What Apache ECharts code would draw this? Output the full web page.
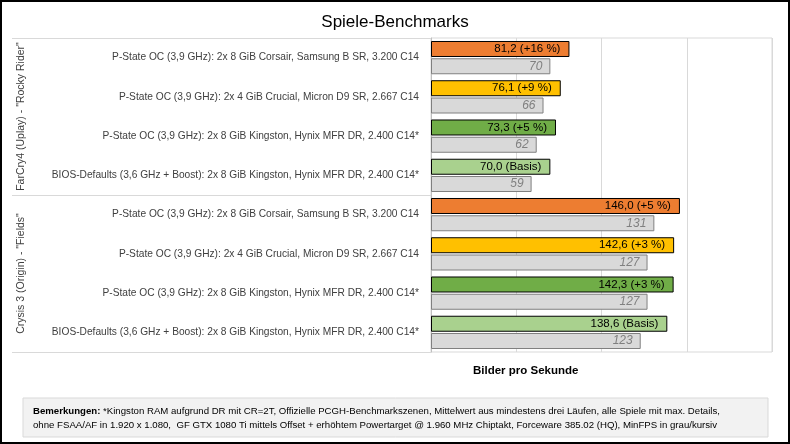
<!DOCTYPE html>
<html>
<head>
<meta charset="utf-8">
<script src="https://cdn.jsdelivr.net/npm/echarts@6/dist/echarts.min.js"></script>
<style>
  html, body { margin: 0; padding: 0; background: #fff; }
  #chart { width: 790px; height: 444px; }
</style>
</head>
<body>
<div id="chart"></div>
<script>
// Spiele-Benchmarks, Werte
var groups = ['FarCry4 (Uplay) - "Rocky Rider"', 'Crysis 3 (Origin) - "Fields"']
var configs = [
  'P-State OC (3,9 GHz): 2x 8 GiB Corsair, Samsung B SR, 3.200 C14',
  'P-State OC (3,9 GHz): 2x 4 GiB Crucial, Micron D9 SR, 2.667 C14',
  'P-State OC (3,9 GHz): 2x 8 GiB Kingston, Hynix MFR DR, 2.400 C14*',
  'BIOS-Defaults (3,6 GHz + Boost): 2x 8 GiB Kingston, Hynix MFR DR, 2.400 C14*'
]
var avgFps = [81.2, 76.1, 73.3, 70.0, 146.0, 142.6, 142.3, 138.6]
var minFps = [70, 66, 62, 59, 131, 127, 127, 123]
var barColors = ['#ED7D31', '#FFC000', '#70AD47', '#A9D18E']
var xTicks = [0, 50, 100, 150, 200]
var note1 = '*Kingston RAM aufgrund DR mit CR=2T, Offizielle PCGH-Benchmarkszenen, Mittelwert aus mindestens drei Läufen, alle Spiele mit max. Details,'
var note2 = 'ohne FSAA/AF in 1.920 x 1.080,  GF GTX 1080 Ti mittels Offset + erhöhtem Powertarget @ 1.960 MHz Chiptakt, Forceware 385.02 (HQ), MinFPS in grau/kursiv'

var categories = []
groups.forEach(function () {
  configs.forEach(function (c) { categories.push(c) })
})

var font = 'Liberation Sans'

function avgLabel (p) {
  var i = p.dataIndex
  var base = avgFps[Math.floor(i / 4) * 4 + 3]
  var txt = p.value.toFixed(1).replace('.', ',')
  if (i % 4 === 3) return txt + ' (Basis)'
  var pct = Math.round((p.value / base - 1) * 100)
  return txt + ' (+' + pct + ' %)'
}

var chart = echarts.init(document.getElementById('chart'))
var option = {
  backgroundColor: '#fff',
  animation: false,
  title: {
    text: 'Spiele-Benchmarks',
    left: 'center',
    top: 9,
    textStyle: { fontFamily: font, fontSize: 17, fontWeight: 'normal', color: '#000' }
  },
  grid: [
    { left: 431, right: 18, top: 38, bottom: 92, show: true, borderColor: '#d9d9d9', borderWidth: 1 },
    { left: 12, width: 419, top: 38, bottom: 92 }
  ],
  xAxis: [
    {
      gridIndex: 0,
      type: 'value',
      min: xTicks[0],
      max: xTicks[xTicks.length - 1],
      interval: 50,
      axisLabel: { show: false },
      axisLine: { show: false },
      axisTick: { show: false },
      splitLine: { lineStyle: { color: '#d9d9d9', width: 1 } }
    },
    { gridIndex: 1, type: 'value', show: false }
  ],
  yAxis: [
    {
      gridIndex: 0,
      type: 'category',
      data: categories,
      inverse: true,
      axisLine: { show: true, lineStyle: { color: '#bfbfbf' } },
      axisTick: { show: false },
      axisLabel: { interval: 0, margin: 12, fontFamily: font, fontSize: 10.2, color: '#404040' }
    },
    {
      gridIndex: 1,
      type: 'category',
      data: groups,
      inverse: true,
      axisLine: { show: false },
      axisTick: { show: false, interval: 0 },
      splitLine: { show: true, interval: 0, lineStyle: { color: '#d9d9d9', width: 1 } },
      axisLabel: { interval: 0, hideOverlap: false, inside: true, rotate: 90, margin: 4, fontFamily: font, fontSize: 10.5, color: '#404040' }
    }
  ],
  series: [
    {
      type: 'bar',
      xAxisIndex: 0,
      yAxisIndex: 0,
      data: avgFps.map(function (v, i) {
        return { value: v, itemStyle: { color: barColors[i % 4] } }
      }),
      barWidth: 16,
      barGap: '8%',
      itemStyle: { borderColor: '#000', borderWidth: 1 },
      label: {
        show: true,
        position: 'insideRight',
        distance: 9,
        formatter: avgLabel,
        fontFamily: font,
        fontSize: 11.5,
        color: '#000'
      }
    },
    {
      type: 'bar',
      xAxisIndex: 0,
      yAxisIndex: 0,
      data: minFps,
      barWidth: 16,
      itemStyle: { color: '#d9d9d9', borderColor: '#808080', borderWidth: 1 },
      label: {
        show: true,
        position: 'insideRight',
        distance: 8,
        fontFamily: font,
        fontSize: 12,
        fontStyle: 'italic',
        color: '#808080'
      }
    }
  ],
  graphic: [
    {
      type: 'text',
      left: 473,
      top: 365,
      style: { text: 'Bilder pro Sekunde', font: 'bold 11.5px ' + font, fill: '#000' }
    },
    {
      type: 'rect',
      shape: { x: 23, y: 398, width: 745, height: 39 },
      style: { fill: '#f2f2f2', stroke: '#d9d9d9', lineWidth: 1 }
    },
    {
      type: 'text',
      x: 33,
      y: 404,
      style: {
        text: '{b|Bemerkungen: }' + note1 + '\n' + note2,
        font: '9.65px ' + font,
        fill: '#000',
        lineHeight: 14.5,
        rich: { b: { fontWeight: 'bold', fontFamily: font, fontSize: 9.65 } }
      }
    },
    {
      type: 'rect',
      shape: { x: 1, y: 1, width: 788, height: 442 },
      style: { fill: 'none', stroke: '#000', lineWidth: 2 }
    }
  ]
}
chart.setOption(option)
</script>
</body>
</html>
